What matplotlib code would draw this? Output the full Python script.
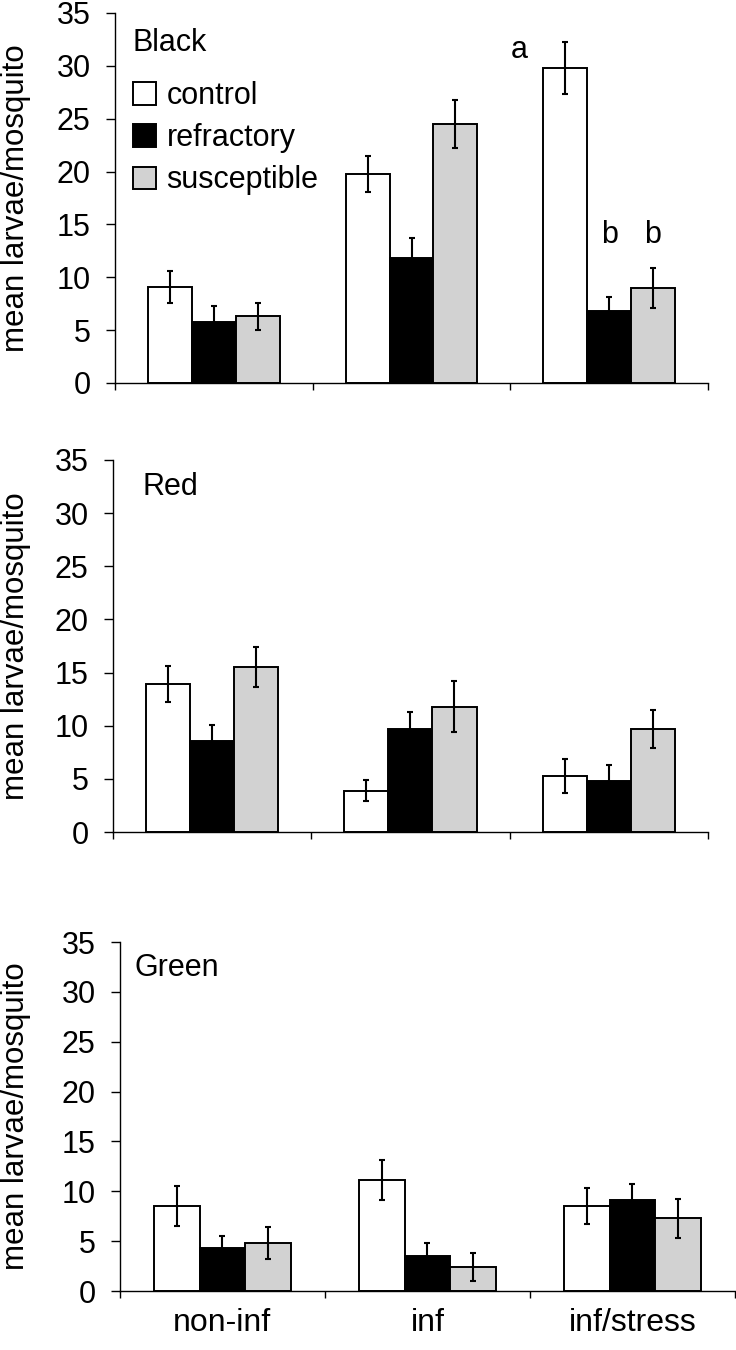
import numpy as np
import matplotlib.pyplot as plt

plt.rcParams['font.family'] = ['Liberation Sans', 'DejaVu Sans']

groups = ['non-inf', 'inf', 'inf/stress']
series = ['control', 'refractory', 'susceptible']
colors = ['white', 'black', '#d2d2d2']

panels = ['Black', 'Red', 'Green']
# means, rows = control / refractory / susceptible
means = {
    'Black': [[9.1, 19.8, 29.8], [5.8, 11.8, 6.8], [6.3, 24.5, 9.0]],
    'Red':   [[13.9, 3.9, 5.3], [8.6, 9.7, 4.8], [15.5, 11.8, 9.7]],
    'Green': [[8.5, 11.1, 8.5], [4.3, 3.5, 9.1], [4.8, 2.4, 7.3]],
}
errs = {
    'Black': [[1.5, 1.7, 2.5], [1.5, 1.9, 1.3], [1.3, 2.3, 1.9]],
    'Red':   [[1.7, 0.95, 1.6], [1.5, 1.6, 1.5], [1.9, 2.4, 1.8]],
    'Green': [[2.0, 2.0, 1.8], [1.2, 1.35, 1.6], [1.6, 1.4, 1.95]],
}
# significance letters in Black panel
sig_x = [2 - 0.455, 2.0, 2.22]
sig_y = [31.5, 14.0, 14.0]
sig_txt = ['a', 'b', 'b']

fs = 22
fig = plt.figure(figsize=(7.36, 13.5), dpi=100)
boxes = [[0.1563, 0.7163, 0.8057, 0.2741],
         [0.1535, 0.3837, 0.8084, 0.2756],
         [0.1630, 0.0437, 0.8356, 0.2585]]
label_xy = [(0.03, 0.92), (0.05, 0.927), (0.023, 0.925)]
w = 0.222
x = np.arange(len(groups))

for i, name in enumerate(panels):
    ax = fig.add_axes(boxes[i])
    for j in range(3):
        ax.bar(x + (j - 1) * w, means[name][j], w, color=colors[j],
               edgecolor='black', linewidth=1.4, label=series[j], zorder=2)
        ax.errorbar(x + (j - 1) * w, means[name][j], yerr=errs[name][j],
                    fmt='none', ecolor='black', elinewidth=1.5,
                    capsize=2.5, capthick=1.5, zorder=3)
    ax.set_xlim(-0.5, 2.5)
    ax.set_ylim(0, 35)
    ax.set_yticks(range(0, 36, 5))
    ax.set_xticks([-0.5, 0.5, 1.5, 2.5])
    ax.set_xticklabels([])
    ax.spines['top'].set_visible(False)
    ax.spines['right'].set_visible(False)
    ax.spines['left'].set_linewidth(1.0)
    ax.spines['bottom'].set_linewidth(1.0)
    ax.tick_params(axis='y', labelsize=fs, length=6.5, width=1.0, pad=11)
    ax.tick_params(axis='x', length=5, width=1.0)
    ax.set_ylabel('mean larvae/mosquito', fontsize=22.5)
    ax.yaxis.set_label_coords((31 - boxes[i][0] * 736) / (boxes[i][2] * 736), 0.5)
    ax.text(label_xy[i][0], label_xy[i][1], name, transform=ax.transAxes,
            fontsize=fs, va='center', ha='left')
    if name == 'Black':
        ax.legend(loc='upper left', bbox_to_anchor=(0.03, 0.816), frameon=False,
                  fontsize=fs, handlelength=0.75, handleheight=0.75,
                  handletextpad=0.35, labelspacing=0.4, borderpad=0,
                  borderaxespad=0)
        for sx, sy, st in zip(sig_x, sig_y, sig_txt):
            ax.text(sx, sy, st, fontsize=fs, ha='center', va='center')
    if i == 2:
        ax.set_xticks(x, minor=True)
        ax.set_xticklabels(groups, minor=True, fontsize=23)
        ax.tick_params(axis='x', which='minor', length=0, pad=12)

fig.savefig('out.png', dpi=100)
